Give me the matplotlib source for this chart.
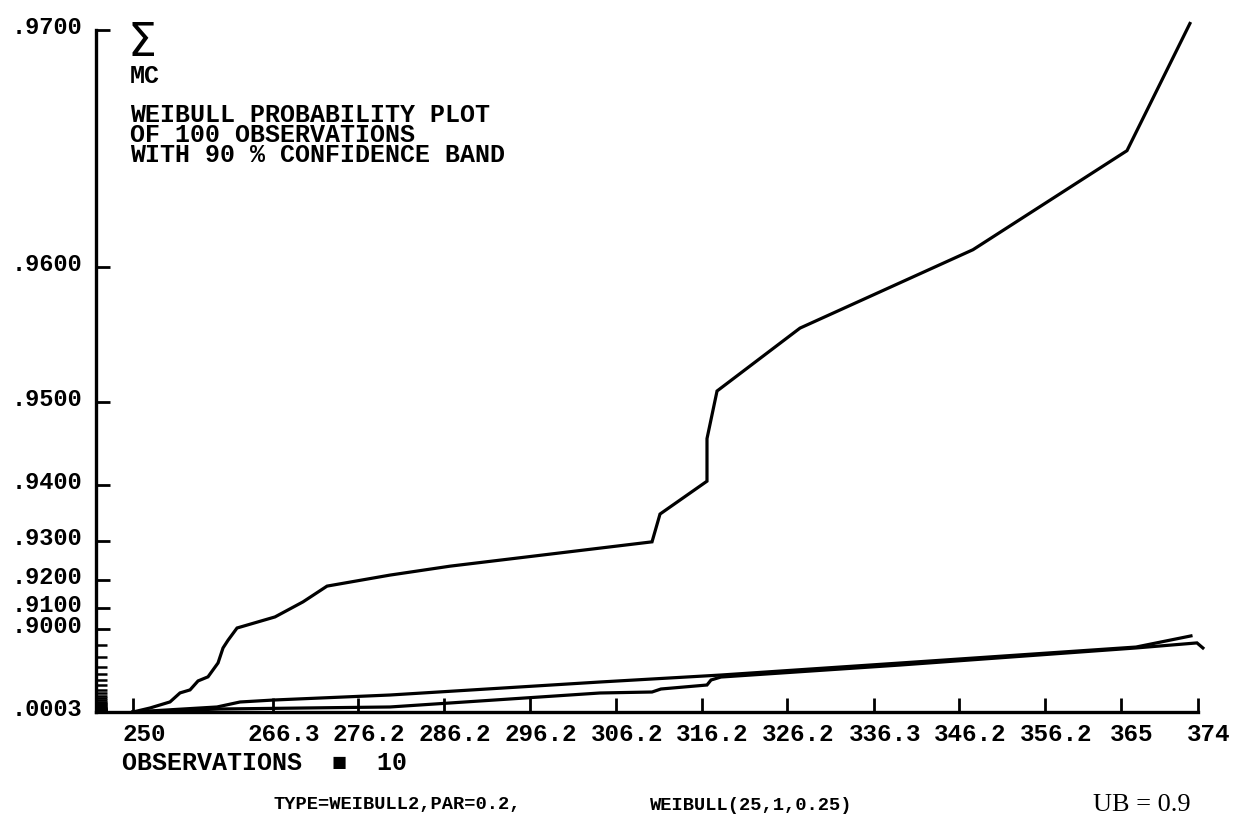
#!/usr/bin/env python3
"""Weibull probability plot of 100 observations with a 90 % confidence band."""

from __future__ import annotations

import numpy as np
import matplotlib

matplotlib.use("Agg")
from matplotlib import pyplot as plt
from matplotlib.transforms import ScaledTranslation

WEIBULL_SHAPE = 0.2
FIG_W, FIG_H = 1233, 819
MONO = ["Liberation Mono", "DejaVu Sans Mono", "DejaVu Sans"]

# observations (x 10) and cumulative probability
upper_x = [250.0, 251.98, 254.31, 255.47, 256.64, 257.57, 258.73, 259.90, 260.48,
           261.06, 262.11, 266.53, 269.79, 272.59, 279.92, 286.91, 310.43, 311.36,
           316.83, 316.83, 318.00, 327.66, 347.80, 365.73, 373.06]
upper_p = [0.001, 0.715, 0.779, 0.820, 0.829, 0.849, 0.856, 0.874, 0.8875,
           0.893, 0.9004, 0.906, 0.9124, 0.918, 0.9214, 0.9239, 0.9298, 0.9353,
           0.9406, 0.9461, 0.9510, 0.9561, 0.9610, 0.9657, 0.9702]

fit_x = [250.0, 259.78, 262.46, 266.42, 279.92, 304.37, 318.46, 339.30, 366.78, 373.18]
fit_p = [0.001, 0.731, 0.7785, 0.7905, 0.8128, 0.8470, 0.8588, 0.8739, 0.8882, 0.8958]

lower_x = [250.0, 260.13, 279.92, 304.37, 310.43, 311.47, 316.83, 317.30, 318.46,
           339.30, 366.78, 373.88, 374.57]
lower_p = [0.001, 0.694, 0.731, 0.8198, 0.8229, 0.8314, 0.8409, 0.8507, 0.8557,
           0.8717, 0.8875, 0.8912, 0.8875]

x_ticks = [250, 266.3, 276.2, 286.2, 296.2, 306.2, 316.2, 326.2, 336.3, 346.2, 356.2, 365, 374]
x_labels = ["250", "266.3", "276.2", "286.2", "296.2", "306.2", "316.2", "326.2",
            "336.3", "346.2", "356.2", "365", "374"]
y_ticks = [0.0003, 0.90, 0.91, 0.92, 0.93, 0.94, 0.95, 0.96, 0.97]
y_labels = [".0003", ".9000", ".9100", ".9200", ".9300", ".9400", ".9500", ".9600", ".9700"]
y_minor = [round(0.01 * k, 2) for k in range(1, 90)]

title_lines = ["WEIBULL PROBABILITY PLOT", "OF 100 OBSERVATIONS", "WITH 90 % CONFIDENCE BAND"]


def weibull_forward(p):
    p = np.clip(np.asarray(p, dtype=float), 0.0, 0.999999)
    return (-np.log1p(-p)) ** (1.0 / WEIBULL_SHAPE)


def weibull_inverse(v):
    v = np.clip(np.asarray(v, dtype=float), 0.0, None)
    return -np.expm1(-(v ** WEIBULL_SHAPE))


def px(x: float, y: float) -> tuple[float, float]:
    return x / FIG_W, 1.0 - y / FIG_H


def main() -> int:
    fig = plt.figure(figsize=(FIG_W / 100, FIG_H / 100), dpi=100)
    ax = fig.add_axes([96 / FIG_W, 1 - 712 / FIG_H, (1198 - 96) / FIG_W, (712 - 30) / FIG_H])

    ax.set_yscale("function", functions=(weibull_forward, weibull_inverse))
    ax.set_xlim(245.69, 374)
    ax.set_ylim(0.0003, 0.97)

    for xs, ps in [(upper_x, upper_p), (fit_x, fit_p), (lower_x, lower_p)]:
        ax.plot(xs, ps, color="black", lw=2.3, solid_joinstyle="miter", clip_on=False)

    for side in ["top", "right"]:
        ax.spines[side].set_visible(False)
    for side in ["left", "bottom"]:
        ax.spines[side].set_linewidth(2.4)

    ax.set_xticks(x_ticks)
    ax.set_xticklabels(x_labels)
    ax.set_yticks(y_ticks)
    ax.set_yticklabels(y_labels)
    ax.set_yticks(y_minor, minor=True)
    ax.tick_params(axis="both", which="major", direction="in", length=10, width=2,
                   color="black")
    ax.tick_params(axis="x", pad=8, labelsize=17.5)
    ax.tick_params(axis="y", pad=10, labelsize=17)
    ax.tick_params(axis="y", which="minor", direction="in", length=8, width=1.8)

    shift_x = ScaledTranslation(0.11, 0, fig.dpi_scale_trans)
    for label in ax.get_xticklabels():
        label.set_fontfamily(MONO)
        label.set_fontweight("bold")
        label.set_transform(label.get_transform() + shift_x)
    shift_y = ScaledTranslation(0, 0.05, fig.dpi_scale_trans)
    for label in ax.get_yticklabels():
        label.set_fontfamily(MONO)
        label.set_fontweight("bold")
        label.set_transform(label.get_transform() + shift_y)

    text_kw = dict(family=MONO, fontweight="bold", fontsize=18, ha="left")
    fig.text(*px(128, 44), "\u03a3", family=["DejaVu Sans"], fontsize=33,
             va="center", ha="left")
    fig.text(*px(130, 76), "MC", va="center", **text_kw)
    fig.text(*px(130, 103), "\n".join(title_lines), va="top", linespacing=0.78, **text_kw)
    fig.text(*px(122, 763), "OBSERVATIONS  \u25a0  10", va="center", **text_kw)

    small_kw = dict(family=MONO, fontweight="bold", fontsize=13.5, va="center", ha="left")
    fig.text(*px(273, 805), "TYPE=WEIBULL2,PAR=0.2,", **small_kw)
    fig.text(*px(650, 805), "WEIBULL(25,1,0.25)", **small_kw)
    fig.text(*px(1093, 805), "UB = 0.9", family=["Liberation Serif", "DejaVu Serif"],
             fontsize=19, va="center", ha="left")

    fig.savefig("out.png", dpi=100, facecolor="white")
    plt.close(fig)
    return 0


if __name__ == "__main__":
    raise SystemExit(main())
